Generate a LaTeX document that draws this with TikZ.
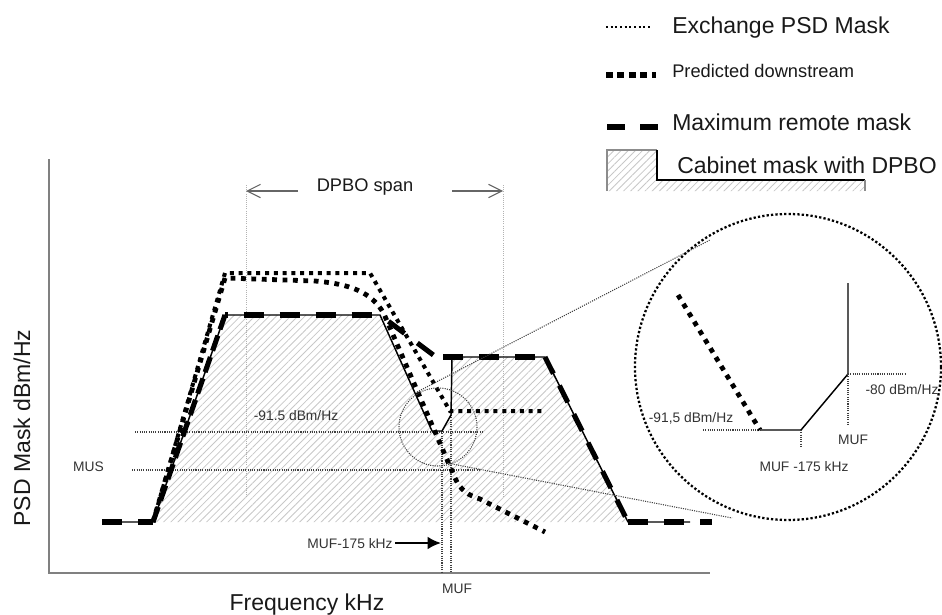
\documentclass[tikz,border=0pt]{standalone}
\usepackage{fontspec}
\setmainfont{Liberation Sans}
\usetikzlibrary{patterns.meta,arrows.meta}
\begin{document}
\begin{tikzpicture}[x=0.75pt,y=-0.75pt,
  axis/.style={line width=1.4pt, draw=black!50},
  outline/.style={line width=1.1pt, draw=black, line join=round},
  maxremote/.style={line width=3.8pt, draw=black, dash pattern=on 15pt off 12pt},
  predicted/.style={line width=3.6pt, draw=black, dash pattern=on 3.6pt off 4.2pt},
  exchange/.style={line width=3pt, draw=black, dash pattern=on 3pt off 3.6pt},
  guide/.style={line width=0.7pt, draw=black!30, dash pattern=on 0.7pt off 0.9pt},
  level/.style={line width=0.8pt, draw=black!75, dash pattern=on 0.8pt off 0.9pt},
  zoomring/.style={line width=1.7pt, draw=black, dash pattern=on 1.7pt off 1.6pt},
  hatch/.style={pattern={Lines[angle=45,distance=3.8pt,line width=0.6pt]}, pattern color=black!22},
  big/.style={font=\fontsize{17.25}{20}\selectfont, text=black!90, inner sep=0pt},
  small/.style={font=\fontsize{10.35}{12}\selectfont, text=black!80, inner sep=0pt},
  mid/.style={font=\fontsize{13.7}{16}\selectfont, text=black!90, inner sep=0pt},
  spanarrow/.style={line width=0.8pt, draw=black!60, -{Straight Barb[length=10pt,width=10pt]}},
]
\useasboundingbox (0,0) rectangle (942,614);

% ---- hatched cabinet mask area
\fill[hatch] (153,522) -- (225,315) -- (380,315) -- (432,431) -- (442,431) -- (451,415) -- (452,357) -- (545,357) -- (628,522) -- cycle;

% ---- DPBO guides
\draw[guide] (246,185) -- (246,498);
\draw[guide] (503,185) -- (503,498);
\node[mid, anchor=base] (span) at (365,191) {DPBO span};
\coordinate (spanL) at (246,191);
\coordinate (spanR) at (503,191);
\draw[spanarrow] (298,191) -- (spanL);
\draw[spanarrow] (452,191) -- (spanR);

% ---- axes
\coordinate (ytop) at (49,159);
\coordinate (orig) at (49,573);
\coordinate (xend) at (710,573);
\draw[axis] (ytop) -- (orig) -- (xend);
\node[big, anchor=base, rotate=90] (ylab) at (30,428) {PSD Mask dBm/Hz};
\node[big, anchor=base] (xlab) at (307,610) {Frequency kHz};

% ---- level lines
\draw[level] (135,432) -- (483,432);
\draw[level] (132,470) -- (480,470);
\draw[level] (442,431) -- (442,573);
\draw[level] (451,415) -- (451,573);
\node[small, anchor=base] (lvl) at (296,420) {-91.5 dBm/Hz};
\node[small, anchor=base] (mus) at (88.5,471) {MUS};
\node[small, anchor=base] (muf) at (457,593) {MUF};
\node[small, anchor=base] (muf175) at (350,548) {MUF-175 kHz};
\coordinate (mufarrow) at (441,543);
\draw[line width=1.5pt, -{Latex[length=10pt,width=9.5pt]}] (395,543) -- (mufarrow);

% ---- cabinet mask outline
\draw[outline] (102,522) -- (153,522) -- (225,315) -- (380,315) -- (432,431) -- (442,431) -- (451,415) -- (452,357) -- (545,357) -- (628,522) -- (690,522);

% ---- maximum remote mask
\draw[maxremote] (102,522) -- (153,522);
\draw[maxremote, dash pattern=on 12pt off 5pt] (153,522) -- (225,315);
\draw[maxremote, dash phase=-14pt] (225,315) -- (380,315);
\draw[maxremote, dash phase=-8pt] (380,315) -- (436,357);
\draw[maxremote] (443,357) -- (545,357);
\draw[maxremote, dash pattern=on 14pt off 10pt] (545,357) -- (628,522);
\draw[maxremote] (628,522) -- (712,522);

% ---- exchange PSD mask
\draw[exchange] (153,522) -- (225,273) -- (370,273) -- (450,411) -- (545,411);

% ---- predicted downstream
\draw[predicted] (153,522) -- (225,278) -- (315,281) .. controls (350,284) and (372,292) .. (384,314) -- (455,478) .. controls (461,491) and (468,495) .. (480,499) -- (545,532);

% ---- zoom circles
\draw[level] (438,427) circle (39);
\draw[level] (417,392) -- (710,240);
\draw[level] (447,463) -- (732,518);
\draw[zoomring] (788,367) circle (153);

% ---- magnified detail
\draw[predicted] (678,295) -- (760,430);
\draw[outline] (760,430) -- (801,430) -- (848,374) -- (848,283);
\draw[level] (703,430) -- (760,430);
\draw[level] (801,430) -- (801,447);
\draw[level] (848,374) -- (905,374);
\draw[level] (848,374) -- (848,425);
\node[small, anchor=base] (z915) at (691,422) {-91,5 dBm/Hz};
\node[small, anchor=base] (z80) at (902,394) {-80 dBm/Hz};
\node[small, anchor=base] (zmuf) at (853,444) {MUF};
\node[small, anchor=base] (zmuf175) at (804,471) {MUF -175 kHz};

% ---- legend
\draw[line width=1.5pt, dash pattern=on 1.5pt off 2pt] (606,27) -- (652,27);
\node[big, anchor=base west] (lg1) at (672,33) {Exchange PSD Mask};
\draw[line width=4pt, dash pattern=on 5pt off 3.6pt] (606,75) -- (656,75);
\node[mid, anchor=base west] (lg2) at (672,77) {Predicted downstream};
\draw[line width=3.8pt] (607,127) -- (625,127);
\draw[line width=3.8pt] (640,127) -- (658,127);
\node[big, anchor=base west] (lg3) at (672,130) {Maximum remote mask};
\fill[hatch] (607,150) -- (657,150) -- (657,180) -- (865,180) -- (865,191) -- (607,191) -- cycle;
\draw[black!45, line width=0.8pt] (607,191) -- (607,150) -- (657,150);
\draw[black, line width=0.9pt] (657,150) -- (657,180) -- (865,180);
\draw[black!45, line width=0.8pt] (865,180) -- (865,191);
\node[big, anchor=base west] (lg4) at (677,173) {Cabinet mask with DPBO};
\end{tikzpicture}
\end{document}
